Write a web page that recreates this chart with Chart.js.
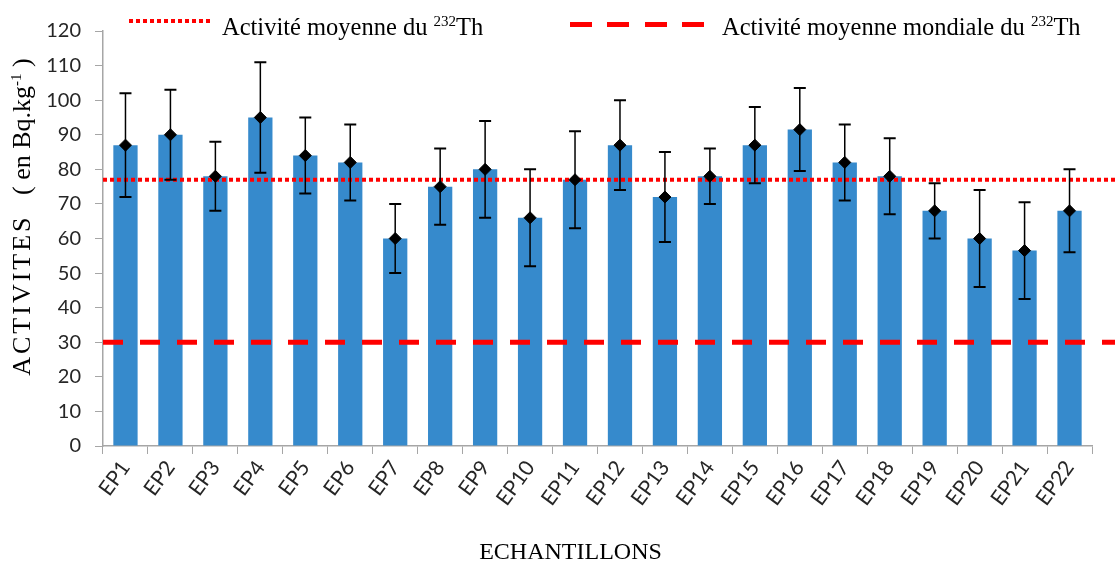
<!DOCTYPE html>
<html>
<head>
<meta charset="utf-8">
<script src="https://cdn.jsdelivr.net/npm/chart.js@4/dist/chart.umd.min.js"></script>
<style>
    body { margin: 0; background: #fff; }
    #wrap { position: relative; width: 1115px; height: 563px; }
    .serif { font-family: "Liberation Serif", serif; color: #000; white-space: nowrap; }
    .legend-item { position: absolute; font-size: 24.5px; line-height: 1; }
    .legend-item sup, #ytitle sup { font-size: 15px; vertical-align: 9px; line-height: 0; }
    .swatch { position: absolute; }
    #ytitle { position: absolute; left: -138px; top: 202px; width: 320px; height: 30px; line-height: 30px;
        font-size: 26px; text-align: center; transform: rotate(-90deg); }
</style>
</head>
<body>
<div id="wrap">
    <canvas id="chart" width="1115" height="563"></canvas>
    <div class="swatch" id="sw-dot" style="left:129px; top:19px; width:82px; height:4px;"></div>
    <div class="legend-item serif" style="left:222px; top:15px;">Activité moyenne du <sup>232</sup>Th</div>
    <div class="swatch" id="sw-dash" style="left:570px; top:22px; width:135px; height:5px;"></div>
    <div class="legend-item serif" style="left:722px; top:15px;">Activité moyenne mondiale du <sup>232</sup>Th</div>
    <div id="ytitle" class="serif"><span style="letter-spacing:3px">ACTIVITES</span>&nbsp;&nbsp; ( en Bq.kg<sup>-1</sup> )</div>
</div>
<script>
    // samples EP1..EP22, activity of 232Th (Bq/kg) with uncertainty
    const samples = ['EP1', 'EP2', 'EP3', 'EP4', 'EP5', 'EP6', 'EP7', 'EP8', 'EP9', 'EP10', 'EP11',
        'EP12', 'EP13', 'EP14', 'EP15', 'EP16', 'EP17', 'EP18', 'EP19', 'EP20', 'EP21', 'EP22'];
    const activities = [87, 90, 78, 95, 84, 82, 60, 75, 80, 66, 77, 87, 72, 78, 87, 91.5, 82, 78, 68, 60, 56.5, 68];
    const uncertainties = [15, 13, 10, 16, 11, 11, 10, 11, 14, 14, 14, 13, 13, 8, 11, 12, 11, 11, 8, 14, 14, 12];
    const meanActivity = 77;
    const worldMeanActivity = 30;
    const yTicks = [0, 10, 20, 30, 40, 50, 60, 70, 80, 90, 100, 110, 120];

    const barColor = '#368acc';
    const axisColor = '#a6a6a6';

    document.getElementById('sw-dot').style.background =
        'repeating-linear-gradient(to right, #ff0000 0 4px, transparent 4px 7px)';
    document.getElementById('sw-dash').style.background =
        'repeating-linear-gradient(to right, #ff0000 0 22px, transparent 22px 37.5px)';

    // horizontal reference lines + error bars, drawn right after the bars
    const overlayPlugin = {
        id: 'overlay',
        afterDatasetDraw(chart, args) {
            if (args.index !== 0) return;
            let ctx = chart.ctx;
            let area = chart.chartArea;
            let x = chart.scales.x;
            let y = chart.scales.y;

            ctx.save();
            ctx.strokeStyle = '#ff0000';
            ctx.lineWidth = 4;
            ctx.setLineDash([4, 3]);
            let yMean = y.getPixelForValue(meanActivity);
            ctx.beginPath();
            ctx.moveTo(area.left, yMean);
            ctx.lineTo(chart.width, yMean);
            ctx.stroke();

            ctx.lineWidth = 5;
            ctx.setLineDash([20, 17]);
            let yWorld = y.getPixelForValue(worldMeanActivity);
            ctx.beginPath();
            ctx.moveTo(area.left, yWorld);
            ctx.lineTo(chart.width, yWorld);
            ctx.stroke();
            ctx.restore();

            ctx.save();
            ctx.strokeStyle = '#000';
            ctx.setLineDash([]);
            activities.forEach((v, i) => {
                let cx = x.getPixelForValue(i);
                let top = y.getPixelForValue(v + uncertainties[i]);
                let bottom = y.getPixelForValue(v - uncertainties[i]);
                ctx.lineWidth = 1.5;
                ctx.beginPath();
                ctx.moveTo(cx, top);
                ctx.lineTo(cx, bottom);
                ctx.stroke();
                ctx.lineWidth = 2;
                ctx.beginPath();
                ctx.moveTo(cx - 6, top);
                ctx.lineTo(cx + 6, top);
                ctx.moveTo(cx - 6, bottom);
                ctx.lineTo(cx + 6, bottom);
                ctx.stroke();
            });
            ctx.restore();
        }
    };

    let ctx = document.getElementById('chart').getContext('2d');
    new Chart(ctx, {
        type: 'bar',
        data: {
            labels: samples,
            datasets: [
                {
                    label: 'Activité',
                    data: activities,
                    backgroundColor: barColor,
                    borderWidth: 0,
                    categoryPercentage: 1,
                    barPercentage: 0.54,
                    order: 2
                },
                {
                    type: 'line',
                    label: 'Moyenne',
                    data: activities,
                    showLine: false,
                    pointStyle: 'rectRot',
                    pointRadius: 6,
                    pointBackgroundColor: '#000',
                    pointBorderColor: '#000',
                    order: 1
                }
            ]
        },
        options: {
            responsive: false,
            animation: false,
            layout: { padding: { top: 31, right: 23, left: 0, bottom: 0 } },
            plugins: {
                legend: { display: false },
                tooltip: { enabled: false }
            },
            scales: {
                x: {
                    afterFit(scale) { scale.height = 117; },
                    grid: { drawOnChartArea: false, offset: true, tickLength: 8, color: axisColor },
                    border: { color: axisColor, width: 1.5 },
                    ticks: {
                        color: '#262626',
                        font: { family: 'Lato, "Liberation Sans", sans-serif', size: 21 },
                        minRotation: 54,
                        maxRotation: 54,
                        padding: 2
                    },
                    title: {
                        display: true,
                        text: 'ECHANTILLONS         ',
                        color: '#000',
                        font: { family: '"Liberation Serif", serif', size: 24 },
                        padding: { top: 0, bottom: -4 }
                    }
                },
                y: {
                    min: 0,
                    max: 120,
                    afterFit(scale) { scale.width = 103; },
                    afterBuildTicks(scale) { scale.ticks = yTicks.map(v => ({ value: v })); },
                    grid: { drawOnChartArea: false, tickLength: 8, color: axisColor },
                    border: { color: axisColor, width: 1.5 },
                    ticks: {
                        color: '#262626',
                        font: { family: 'Lato, "Liberation Sans", sans-serif', size: 20 },
                        padding: 14
                    }
                }
            }
        },
        plugins: [overlayPlugin]
    });
</script>
</body>
</html>
